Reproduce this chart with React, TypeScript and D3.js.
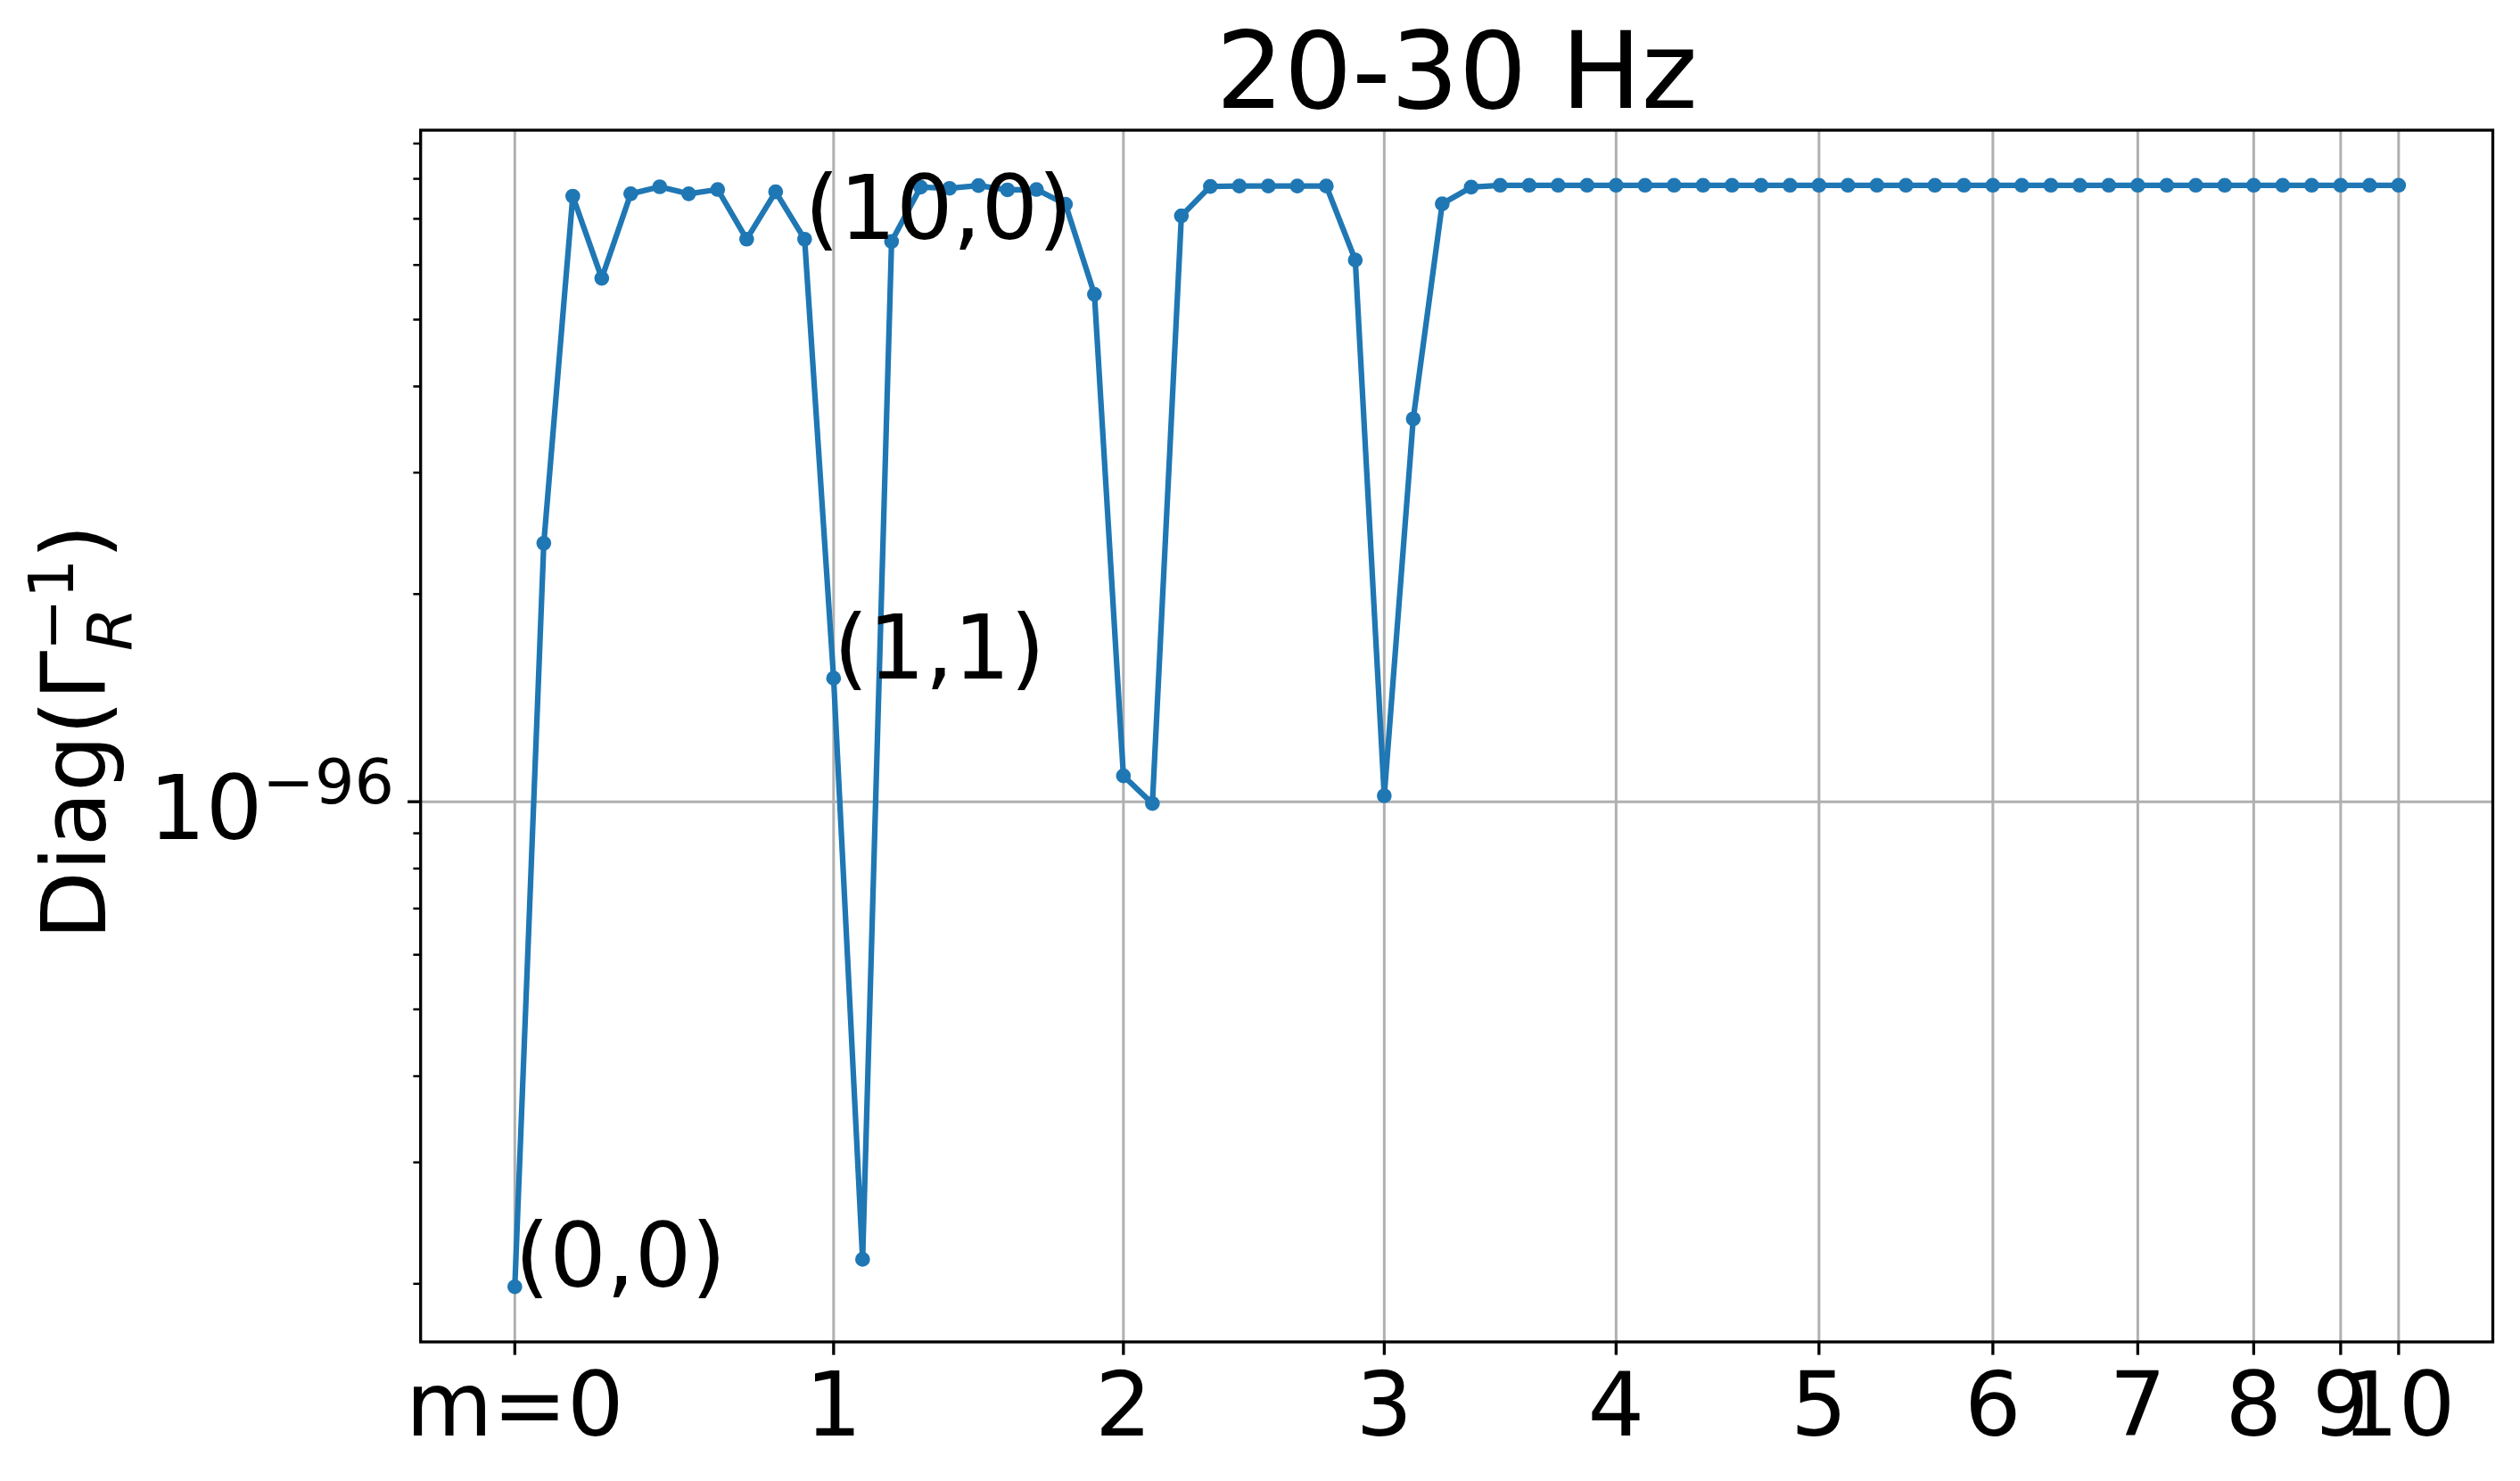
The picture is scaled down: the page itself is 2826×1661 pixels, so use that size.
import React from "react";
import * as d3 from "d3";

const W = 2826;
const H = 1661;

const title = "20-30 Hz";
const mTickLabels = ["m=0", "1", "2", "3", "4", "5", "6", "7", "8", "9", "10"];
const lMax = 10;

// Diag(Gamma_R^-1) for each (l, m), ordered m = 0..10, l = m..10
const values: number[] = [
  1.98e-97, 2.37e-96, 7.55e-96, 5.74e-96, 7.61e-96, 7.79e-96, 7.61e-96, 7.72e-96, 6.54e-96, 7.66e-96, 6.54e-96,
  1.51e-96, 2.17e-97, 6.49e-96, 7.78e-96, 7.75e-96, 7.82e-96, 7.71e-96, 7.72e-96, 7.35e-96, 5.44e-96,
  1.09e-96, 9.94e-97, 7.07e-96, 7.80e-96, 7.81e-96, 7.81e-96, 7.81e-96, 7.81e-96, 6.10e-96,
  1.02e-96, 3.59e-96, 7.36e-96, 7.78e-96, 7.83e-96, 7.83e-96, 7.83e-96, 7.83e-96,
  7.83e-96, 7.83e-96, 7.83e-96, 7.83e-96, 7.83e-96, 7.83e-96, 7.83e-96,
  7.83e-96, 7.83e-96, 7.83e-96, 7.83e-96, 7.83e-96, 7.83e-96,
  7.83e-96, 7.83e-96, 7.83e-96, 7.83e-96, 7.83e-96,
  7.83e-96, 7.83e-96, 7.83e-96, 7.83e-96,
  7.83e-96, 7.83e-96, 7.83e-96,
  7.83e-96, 7.83e-96,
  7.83e-96,
];

const annotations = [
  { index: 0, text: "(0,0)" },
  { index: 11, text: "(1,1)" },
  { index: 10, text: "(10,0)" },
];

const FONT = "DejaVu Sans";
const BLUE = "#1f77b4";
const GRID = "#b0b0b0";

export default function App() {
  const left = 471.7, right = 2795.5, top = 146, bottom = 1505;
  const n = values.length;

  const x = d3.scaleLinear().domain([-(n - 1) * 0.05, (n - 1) * 1.05]).range([left, right]);
  const logs = values.map((v) => Math.log10(v));
  const lo = d3.min(logs) as number;
  const hi = d3.max(logs) as number;
  const pad = (hi - lo) * 0.05;
  const y = d3.scaleLog().domain([Math.pow(10, lo - pad), Math.pow(10, hi + pad)]).range([bottom, top]);

  // m tick positions (start index of each m group)
  const mTicks: number[] = [];
  let idx = 0;
  for (let m = 0; m <= lMax; m++) {
    mTicks.push(idx);
    idx += lMax - m + 1;
  }

  const [dmin, dmax] = y.domain();
  const majors: number[] = [];
  const minors: number[] = [];
  for (let d = Math.floor(Math.log10(dmin)); d <= Math.ceil(Math.log10(dmax)); d++) {
    const p = Math.pow(10, d);
    if (p >= dmin && p <= dmax) majors.push(d);
    for (let k = 2; k <= 9; k++) {
      const v = k * p;
      if (v >= dmin && v <= dmax) minors.push(v);
    }
  }

  const line = d3
    .line<number>()
    .x((_, i) => x(i))
    .y((d) => y(d));

  const majorLen = 14.6;
  const minorLen = 8.3;

  return (
    <svg
      width={W}
      height={H}
      style={{ position: "absolute", left: 0, top: 0, background: "#fff" }}
      fontFamily={FONT}
    >
      <rect x={0} y={0} width={W} height={H} fill="#fff" />
      {/* grid */}
      {mTicks.map((t, i) => (
        <line key={"gx" + i} x1={x(t)} x2={x(t)} y1={top} y2={bottom} stroke={GRID} strokeWidth={3} />
      ))}
      {majors.map((d) => (
        <line key={"gy" + d} x1={left} x2={right} y1={y(Math.pow(10, d))} y2={y(Math.pow(10, d))} stroke={GRID} strokeWidth={3} />
      ))}

      {/* data */}
      <path d={line(values) || ""} fill="none" stroke={BLUE} strokeWidth={6.25} strokeLinejoin="round" />
      {values.map((v, i) => (
        <circle key={"p" + i} cx={x(i)} cy={y(v)} r={6.25} fill={BLUE} stroke={BLUE} strokeWidth={4.17} />
      ))}

      {/* spines */}
      <rect x={left} y={top} width={right - left} height={bottom - top} fill="none" stroke="#000" strokeWidth={3.3} strokeLinejoin="miter" />

      {/* x ticks */}
      {mTicks.map((t, i) => (
        <g key={"xt" + i}>
          <line x1={x(t)} x2={x(t)} y1={bottom} y2={bottom + majorLen} stroke="#000" strokeWidth={3.3} />
          <text x={x(t)} y={1610} fontSize={100} textAnchor="middle" fill="#000">
            {mTickLabels[i]}
          </text>
        </g>
      ))}

      {/* y ticks */}
      {minors.map((v, i) => (
        <line key={"ym" + i} x1={left - minorLen} x2={left} y1={y(v)} y2={y(v)} stroke="#000" strokeWidth={2.5} />
      ))}
      {majors.map((d) => (
        <g key={"yt" + d}>
          <line x1={left - majorLen} x2={left} y1={y(Math.pow(10, d))} y2={y(Math.pow(10, d))} stroke="#000" strokeWidth={3.3} />
          <text x={442} y={y(Math.pow(10, d)) + 41.5} fontSize={100} textAnchor="end" fill="#000">
            10
            <tspan fontSize={70} dy={-40}>
              {"\u2212" + String(-d)}
            </tspan>
          </text>
        </g>
      ))}

      {/* annotations */}
      {annotations.map((a) => (
        <text key={a.text} x={x(a.index)} y={y(values[a.index])} fontSize={100} fill="#000">
          {a.text}
        </text>
      ))}

      {/* title */}
      <text x={(left + right) / 2} y={120.7} fontSize={120} textAnchor="middle" fill="#000">
        {title}
      </text>

      {/* y label */}
      <g transform={`translate(118, 1054) rotate(-90)`}>
        <text x={0} y={0} fontSize={100} fill="#000">
          {"Diag(\u0393"}
        </text>
        <text x={324} y={29} fontSize={70} fontStyle="italic" fill="#000">
          R
        </text>
        <text x={324} y={-36} fontSize={70} fill="#000">
          {"\u22121"}
        </text>
        <text x={427} y={0} fontSize={100} fill="#000">
          )
        </text>
      </g>
    </svg>
  );
}
